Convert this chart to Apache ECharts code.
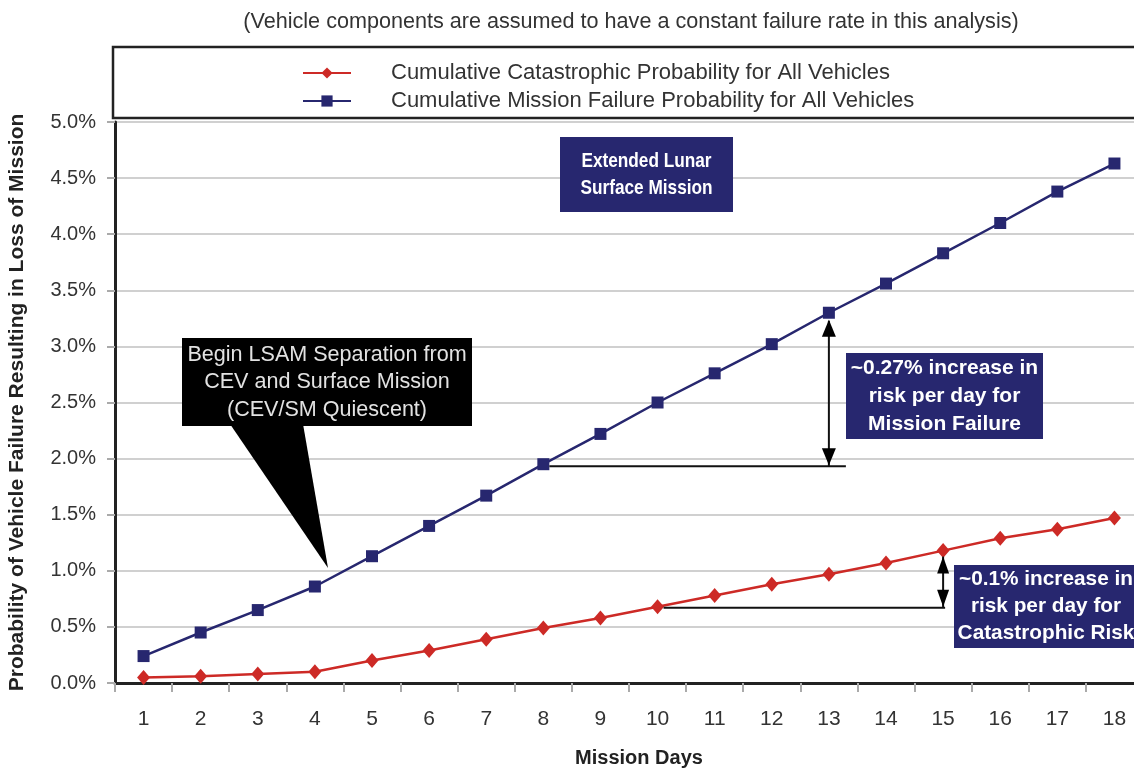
<!DOCTYPE html>
<html>
<head>
<meta charset="utf-8">
<script src="https://cdn.jsdelivr.net/npm/echarts@6/dist/echarts.min.js"></script>
<style>
  html, body { margin: 0; padding: 0; background: #fff; }
  #chart { width: 1134px; height: 771px; }
</style>
</head>
<body>
<div id="chart"></div>
<script>
// Mission days on the x axis
const days = ['1','2','3','4','5','6','7','8','9','10','11','12','13','14','15','16','17','18'];
// Cumulative catastrophic probability (%)
const catastrophic = [0.05, 0.06, 0.08, 0.10, 0.20, 0.29, 0.39, 0.49, 0.58, 0.68, 0.78, 0.88, 0.97, 1.07, 1.18, 1.29, 1.37, 1.47];
// Cumulative mission failure probability (%)
const missionFailure = [0.24, 0.45, 0.65, 0.86, 1.13, 1.40, 1.67, 1.95, 2.22, 2.50, 2.76, 3.02, 3.30, 3.56, 3.83, 4.10, 4.38, 4.63];
// Y axis range and step (%)
const yMin = 0, yMax = 5, yStep = 0.5;

const FONT = "'Liberation Sans', Arial, sans-serif";
const NAVY = '#27276f';
const RED = '#cd2a26';

const chart = echarts.init(document.getElementById('chart'), null, { renderer: 'canvas' });

chart.setOption({
  animation: false,
  backgroundColor: '#ffffff',
  textStyle: { fontFamily: FONT },
  title: {
    text: '(Vehicle components are assumed to have a constant failure rate in this analysis)',
    left: 626, top: 6, textAlign: 'center',
    textStyle: { fontFamily: FONT, fontSize: 21.6, fontWeight: 'normal', color: '#333' }
  },
  legend: {
    orient: 'vertical', left: 297, top: 57, itemGap: 6,
    itemWidth: 48, itemHeight: 14,
    textStyle: { fontFamily: FONT, fontSize: 22, color: '#333', padding: [0, 0, 0, 35] },
    data: ['Cumulative Catastrophic Probability for All Vehicles', 'Cumulative Mission Failure Probability for All Vehicles']
  },
  grid: {
    left: 115, top: 122, right: -9, bottom: 88,
    outerBoundsMode: 'none', containLabel: false,
    show: true, borderColor: '#222', borderWidth: 2, backgroundColor: 'transparent'
  },
  xAxis: {
    type: 'category', data: days, boundaryGap: true,
    name: 'Mission Days', nameLocation: 'middle', nameGap: 65,
    nameTextStyle: { fontFamily: FONT, fontSize: 20, fontWeight: 'bold', color: '#222', padding: [0, 0, 0, 20] },
    axisLine: { lineStyle: { color: '#222', width: 3 } },
    axisTick: { show: true, alignWithLabel: false, length: 9, lineStyle: { color: '#aaa', width: 2 } },
    axisLabel: { fontFamily: FONT, fontSize: 21, color: '#333', margin: 26 },
    splitLine: { show: false }
  },
  yAxis: {
    type: 'value', min: yMin, max: yMax, interval: yStep,
    name: 'Probability of Vehicle Failure Resulting in Loss of Mission',
    nameLocation: 'middle', nameGap: 87, nameRotate: 90,
    nameTextStyle: { fontFamily: FONT, fontSize: 21, fontWeight: 'bold', color: '#222' },
    axisLine: { show: true, lineStyle: { color: '#222', width: 3 } },
    axisTick: { show: true, length: 8, lineStyle: { color: '#aaa', width: 2 } },
    axisLabel: { fontFamily: FONT, fontSize: 20, color: '#333', margin: 19,
      formatter: v => v.toFixed(1) + '%' },
    splitLine: { lineStyle: { color: '#d0d0d0', width: 2 } }
  },
  series: [
    {
      name: 'Cumulative Catastrophic Probability for All Vehicles',
      type: 'line', data: catastrophic,
      symbol: 'diamond', symbolSize: [13, 15],
      lineStyle: { color: RED, width: 2.5 },
      itemStyle: { color: RED },
      z: 3
    },
    {
      name: 'Cumulative Mission Failure Probability for All Vehicles',
      type: 'line', data: missionFailure,
      symbol: 'rect', symbolSize: 12,
      lineStyle: { color: NAVY, width: 2.5 },
      itemStyle: { color: NAVY },
      z: 3
    }
  ]
});

// Annotation layer: boxes, callout and measurement arrows
function px(idx, val) { return chart.convertToPixel({ gridIndex: 0 }, [idx, val]); }

function textBox(x, y, w, h, lines, opt) {
  const tx = opt.tx !== undefined ? opt.tx : x + w / 2;
  return {
    type: 'group', z: 20,
    children: [
      { type: 'rect', shape: { x: x, y: y, width: w, height: h }, style: { fill: opt.fill } },
      { type: 'text', x: tx, y: y + h / 2 + (opt.dy || 0), scaleX: opt.scaleX || 1,
        style: { text: lines.join('\n'), fill: opt.color, font: opt.weight + ' ' + opt.size + 'px ' + FONT,
          align: 'center', verticalAlign: 'middle', lineHeight: opt.lh } }
    ]
  };
}

function tri(x, y, dir, w, h) {
  // dir: -1 points up, 1 points down
  return { type: 'polygon', z: 15, shape: { points: [[x, y], [x - w, y - dir * h], [x + w, y - dir * h]] },
    style: { fill: '#000' } };
}

const g = [];
// Legend frame
g.push({ type: 'rect', z: 1, shape: { x: 113, y: 47, width: 1040, height: 71 },
  style: { fill: 'none', stroke: '#222', lineWidth: 2.5 } });

// Mission failure slope marker
const b8 = px(7, missionFailure[7]);
const b13 = px(12, missionFailure[12]);
const hY1 = b8[1] + 2;
g.push({ type: 'line', z: 14, shape: { x1: b8[0] + 6, y1: hY1, x2: b13[0] + 17, y2: hY1 }, style: { stroke: '#111', lineWidth: 2 } });
g.push({ type: 'line', z: 14, shape: { x1: b13[0], y1: b13[1] + 8, x2: b13[0], y2: hY1 }, style: { stroke: '#111', lineWidth: 2 } });
g.push(tri(b13[0], b13[1] + 7, -1, 7, 17));
g.push(tri(b13[0], hY1 - 1, 1, 7, 17));

// Catastrophic slope marker
const r10 = px(9, catastrophic[9]);
const r15 = px(14, catastrophic[14]);
const hY2 = r10[1] + 1;
g.push({ type: 'line', z: 14, shape: { x1: r10[0] + 6, y1: hY2, x2: r15[0] + 2, y2: hY2 }, style: { stroke: '#111', lineWidth: 2 } });
g.push({ type: 'line', z: 14, shape: { x1: r15[0], y1: r15[1] + 6, x2: r15[0], y2: hY2 }, style: { stroke: '#111', lineWidth: 2 } });
g.push(tri(r15[0], r15[1] + 6, -1, 6, 17));
g.push(tri(r15[0], hY2 - 1, 1, 6, 17));

// Text boxes
g.push(textBox(560, 137, 173, 75, ['Extended Lunar', 'Surface Mission'],
  { fill: NAVY, color: '#fff', size: 21, weight: 'bold', lh: 27, scaleX: 0.82 }));
g.push(textBox(846, 353, 197, 86, ['~0.27% increase in', 'risk per day for', 'Mission Failure'],
  { fill: NAVY, color: '#fff', size: 21, weight: 'bold', lh: 28, scaleX: 1.0 }));
g.push(textBox(954, 565, 200, 83, ['~0.1% increase in', 'risk per day for', 'Catastrophic Risk'],
  { fill: NAVY, color: '#fff', size: 21, weight: 'bold', lh: 27, scaleX: 0.99, tx: 1046 }));

// Black callout with pointer
g.push({ type: 'polygon', z: 18, shape: { points: [[230, 424], [303, 424], [328, 568]] }, style: { fill: '#000' } });
g.push(textBox(182, 338, 290, 88, ['Begin LSAM Separation from', 'CEV and Surface Mission', '(CEV/SM Quiescent)'],
  { fill: '#000', color: '#e2e2e2', size: 22, weight: 'normal', lh: 27.5, scaleX: 0.98 }));

chart.setOption({ graphic: g });
</script>
</body>
</html>
